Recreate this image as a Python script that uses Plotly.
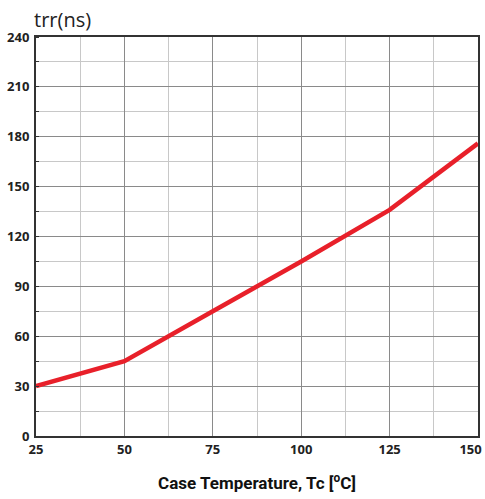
import plotly.graph_objects as go

temp_c = [25, 50, 75, 100, 125, 150]
trr_ns = [30, 45, 75, 105, 136, 176]
x_ticks = [25, 50, 75, 100, 125, 150]
y_ticks = [0, 30, 60, 90, 120, 150, 180, 210, 240]

fig = go.Figure()
fig.add_trace(go.Scatter(x=temp_c, y=trr_ns, mode="lines",
                         line=dict(color="#e8202a", width=4.5), showlegend=False))

x_text = [str(v) for v in x_ticks]
x_text[-1] = x_text[-1] + "\u2007\u2007"

tick_font = dict(family="Open Sans", size=13, color="#222222", weight="bold")
axis_common = dict(showline=True, linecolor="#333333", linewidth=2, mirror=True,
                   gridcolor="#8a8a8a", gridwidth=1, zeroline=False,
                   tickfont=tick_font, automargin=False)
fig.update_xaxes(range=[25, 150], tickvals=x_ticks, ticktext=x_text,
                 ticks="", ticklabeloverflow="allow",
                 minor=dict(dtick=12.5, tick0=25, showgrid=True, gridcolor="#c8c8c8", gridwidth=1),
                 title=dict(text="Case Temperature, Tc [<sup>o</sup>C]",
                            font=dict(family="Roboto", size=17,
                                      color="#111111", weight="bold"), standoff=21),
                 **axis_common)
fig.update_yaxes(range=[0, 240], tickvals=y_ticks, ticktext=[str(v) for v in y_ticks],
                 ticks="", ticklabelstandoff=2,
                 minor=dict(dtick=15, tick0=0, showgrid=True, gridcolor="#c8c8c8", gridwidth=1,
                            ticks="inside", ticklen=3, tickcolor="#333333", tickwidth=1),
                 **axis_common)

fig.add_annotation(text="trr(ns)", xref="paper", yref="paper", x=0, y=1, xshift=-4, yshift=2,
                   xanchor="left", yanchor="bottom", showarrow=False,
                   font=dict(family="Open Sans", size=20, color="#222222"))

fig.update_layout(width=485, height=499, margin=dict(l=36, r=7, t=37, b=63),
                  plot_bgcolor="white", paper_bgcolor="white")
fig.write_html("out.html", config={"responsive": False, "displayModeBar": False},
               post_script="document.body.style.margin='0';document.body.style.overflow='hidden';")
